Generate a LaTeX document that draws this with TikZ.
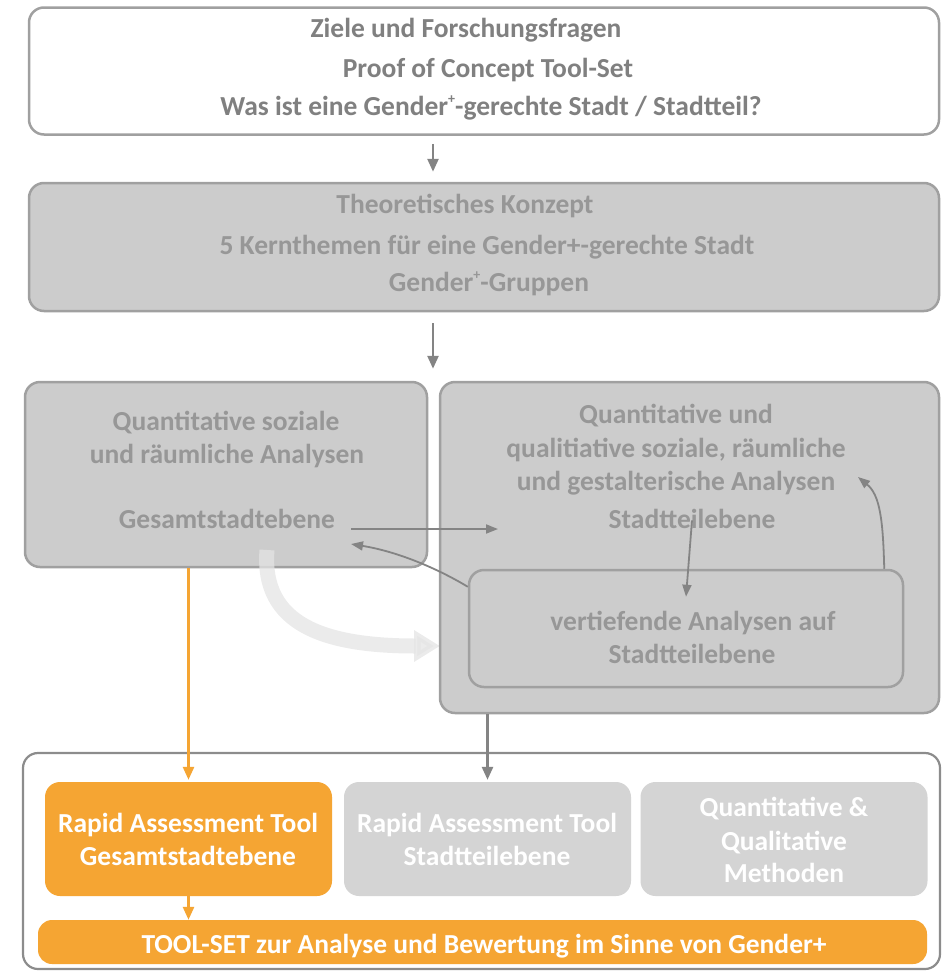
\documentclass[tikz,border=0pt]{standalone}
\usepackage{fontspec}
\setmainfont{Carlito}
\usetikzlibrary{arrows.meta}
\definecolor{boxgray}{HTML}{CCCCCC}
\definecolor{edgegray}{HTML}{A0A0A0}
\definecolor{framegray}{HTML}{8C8C8C}
\definecolor{txtdark}{HTML}{808080}
\definecolor{txtlight}{HTML}{979797}
\definecolor{arrgray}{HTML}{848484}
\definecolor{tangerine}{HTML}{F5A533}
\definecolor{palebox}{HTML}{D4D4D4}
\definecolor{ghost}{HTML}{E4E4E4}
\newcommand{\gplus}{\raisebox{0.42em}{\fontsize{14}{14}\selectfont +}}

\begin{document}
\begin{tikzpicture}[x=1pt,y=-1pt,
  panel/.style={draw=edgegray, line width=2.5pt, rounded corners=15pt, inner sep=0pt},
  toolbox/.style={rounded corners=15pt, inner sep=0pt, minimum width=287pt, minimum height=114pt},
  lbl/.style={font=\bfseries\fontsize{27.5}{33}\selectfont, inner sep=0pt, anchor=base},
  garr/.style={draw=arrgray, line width=2.6pt, -{Triangle[length=13pt,width=11pt]}},
  tarr/.style={draw=arrgray, line width=1.8pt, -{Triangle[length=12pt,width=9pt]}},
  oarr/.style={draw=tangerine, line width=2.6pt, -{Triangle[length=13pt,width=11pt]}}
]
\useasboundingbox (0,0) rectangle (944,972);

% ---- main boxes ----
\node[panel, fill=white, minimum width=910pt, minimum height=127pt] (goals) at (484,71) {};
\node[panel, fill=boxgray, minimum width=910pt, minimum height=128pt] (theory) at (484,247) {};
\node[panel, fill=boxgray, minimum width=402pt, minimum height=185pt] (city) at (226,474.5) {};

% light sweep from the city level towards the district analyses
\coordinate (sweepStart) at (267,550);
\coordinate (sweepEnd) at (440,646);
\draw[ghost, opacity=0.75, line width=15pt, -{Triangle[length=26pt,width=30pt]}]
  (sweepStart) .. controls (261,625) and (325,646) .. (sweepEnd);

\node[panel, fill=boxgray, minimum width=499pt, minimum height=331pt] (district) at (689.5,547.5) {};
\node[panel, fill=boxgray, minimum width=434pt, minimum height=117pt] (deep) at (686,628.5) {};

% ---- tool-set frame ----
\node[draw=framegray, line width=2.2pt, fill=white, rounded corners=15pt, inner sep=0pt,
      minimum width=917pt, minimum height=216pt] (frame) at (481.5,861) {};
\node[toolbox, fill=tangerine] (ratcity) at (188.5,839) {};
\node[toolbox, fill=palebox] (ratdistrict) at (487.5,839) {};
\node[toolbox, fill=palebox] (methods) at (784,839) {};
\node[fill=tangerine, rounded corners=14pt, inner sep=0pt, minimum width=889pt, minimum height=44pt] (toolset) at (482.5,942) {};

% ---- texts ----
\begin{scope}[every node/.append style={lbl, text=txtdark}]
\node (g1) at (466,37) {Ziele und Forschungsfragen};
\node (g2) at (488,77) {Proof of Concept Tool-Set};
\node (g3) at (491,115) {Was ist eine Gender\gplus-gerechte Stadt / Stadtteil?};
\end{scope}
\begin{scope}[every node/.append style={lbl, text=txtlight}]
\node (t1) at (465,213) {Theoretisches Konzept};
\node (t2) at (487,254) {5 Kernthemen für eine Gender+-gerechte Stadt};
\node (t3) at (489,291) {Gender\gplus-Gruppen};
\node (c1) at (226,430) {Quantitative soziale};
\node (c2) at (227,463) {und räumliche Analysen};
\node (c3) at (227,528) {Gesamtstadtebene};
\node (d1) at (676,423) {Quantitative und};
\node (d2) at (676,457) {qualitiative soziale, räumliche};
\node (d3) at (676,490) {und gestalterische Analysen};
\node (d4) at (692,528) {Stadtteilebene};
\node (v1) at (693,630) {vertiefende Analysen auf};
\node (v2) at (692,663) {Stadtteilebene};
\end{scope}
\begin{scope}[every node/.append style={lbl, text=white}]
\node (r1) at (188,832) {Rapid Assessment Tool};
\node (r2) at (188,865) {Gesamtstadtebene};
\node (s1) at (487,832) {Rapid Assessment Tool};
\node (s2) at (487,865) {Stadtteilebene};
\node (m1) at (784,816) {Quantitative \&};
\node (m2) at (784,850) {Qualitative};
\node (m3) at (784,882) {Methoden};
\node (ts) at (484,953) {TOOL-SET zur Analyse und Bewertung im Sinne von Gender+};
\end{scope}

% ---- connectors ----
\coordinate (colA) at (433,0);
\draw[garr] ([yshift=-8pt]goals.south -| colA) -- ([yshift=10pt]theory.north -| colA);
\draw[garr] ([yshift=-11pt]theory.south -| colA) -- ([yshift=12pt]city.north -| colA);

% links between city and district level
\coordinate (hA) at (351,529);
\coordinate (hB) at (498,529);
\coordinate (backTip) at (351,544);
\coordinate (upTip) at (858,477);
\draw[tarr] (hA) -- (hB);
\draw[tarr] ([yshift=-18pt]deep.north west) .. controls (440,570) and (400,552) .. (backTip);
\draw[tarr] ([yshift=8pt]d4.south) -- ([yshift=-28pt]deep.north);
\draw[tarr] ([xshift=-20pt]deep.north east) .. controls (883,520) and (880,495) .. (upTip);

% ---- into the tool-set ----
\draw[oarr] (city.south -| ratcity) -- ([yshift=2pt]ratcity.north);
\draw[garr] (district.south -| ratdistrict) -- ([yshift=2pt]ratdistrict.north);
\draw[oarr] (ratcity.south) -- (toolset.north -| ratcity);
\end{tikzpicture}
\end{document}
